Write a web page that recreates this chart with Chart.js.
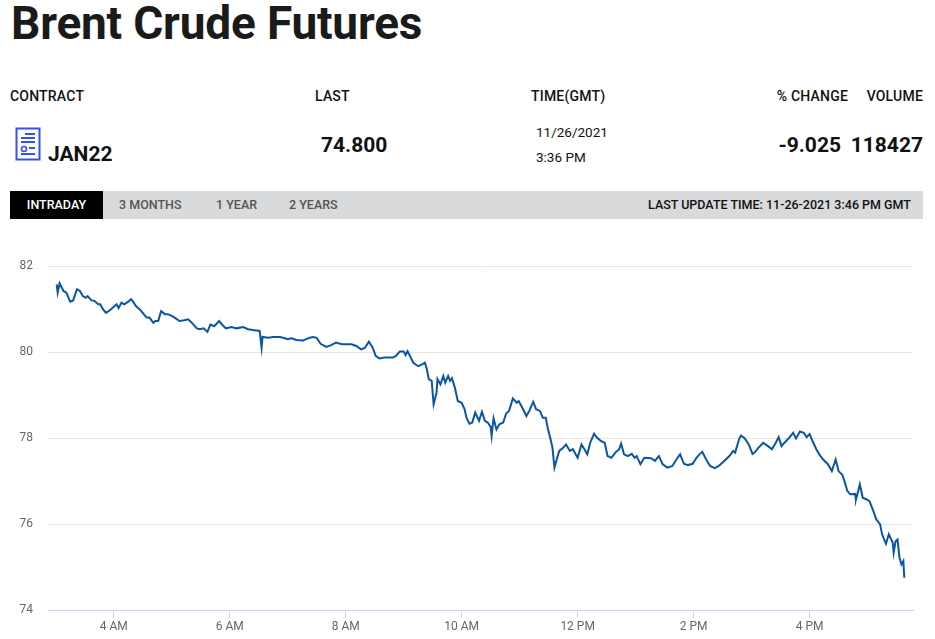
<!DOCTYPE html>
<html lang="en">
<head>
    <meta charset="UTF-8">
    <title>Brent Crude Futures</title>
    <script src="https://cdn.jsdelivr.net/npm/chart.js"></script>
    <style>
        body { margin: 0; width: 935px; height: 639px; background: #fff; font-family: Roboto, "Liberation Sans", sans-serif; color: #111; overflow: hidden; position: relative; }
        .abs { position: absolute; line-height: 1; white-space: nowrap; }
        h1 { position: absolute; left: 11px; top: 0; margin: 0; font-size: 46px; line-height: 1; font-weight: 700; letter-spacing: -0.2px; color: #1a1a1a; }
        .head { font-size: 14px; font-weight: 500; top: 89px; letter-spacing: 0.2px; }
        .big { font-size: 21px; font-weight: 700; }
        .small { font-size: 13.5px; font-weight: 400; }
        #tabs { position: absolute; left: 10px; top: 191px; width: 913px; height: 28px; background: #d9dadb; }
        .tab { position: absolute; top: 0; height: 28px; line-height: 28px; font-size: 12.5px; font-weight: 500; color: #555; }
        #chartBox { position: absolute; left: 0; top: 240px; width: 935px; height: 399px; }
    </style>
</head>
<body>
    <h1>Brent Crude Futures</h1>

    <div class="abs head" style="left:10px;">CONTRACT</div>
    <div class="abs head" style="left:315px;">LAST</div>
    <div class="abs head" style="left:531px;">TIME(GMT)</div>
    <div class="abs head" style="right:87px;">% CHANGE</div>
    <div class="abs head" style="right:12px;">VOLUME</div>

    <svg class="abs" style="left:15px; top:127px;" width="27" height="35" viewBox="0 0 27 35">
        <rect x="1.5" y="1.5" width="23" height="31" fill="none" stroke="#3352ee" stroke-width="2"/>
        <line x1="10" y1="7" x2="20" y2="7" stroke="#3352ee" stroke-width="2"/>
        <line x1="6" y1="11" x2="20" y2="11" stroke="#3352ee" stroke-width="2"/>
        <line x1="6" y1="15" x2="20" y2="15" stroke="#3352ee" stroke-width="2"/>
        <circle cx="9" cy="22" r="2.5" fill="none" stroke="#3352ee" stroke-width="1.6"/>
        <line x1="14" y1="21" x2="20" y2="21" stroke="#3352ee" stroke-width="2"/>
        <line x1="6" y1="27" x2="20" y2="27" stroke="#3352ee" stroke-width="2"/>
    </svg>
    <div class="abs big" style="left:48px; top:144px;">JAN22</div>
    <div class="abs big" style="left:321px; top:135px;">74.800</div>
    <div class="abs small" style="left:536px; top:126px;">11/26/2021</div>
    <div class="abs small" style="left:536px; top:151px;">3:36 PM</div>
    <div class="abs big" style="right:94px; top:135px;">-9.025</div>
    <div class="abs big" style="right:12px; top:135px;">118427</div>

    <div id="tabs">
        <div class="tab" style="left:0; width:93px; background:#000; color:#fff; text-align:center;">INTRADAY</div>
        <div class="tab" style="left:109px;">3 MONTHS</div>
        <div class="tab" style="left:206px;">1 YEAR</div>
        <div class="tab" style="left:279px;">2 YEARS</div>
        <div class="tab" style="right:12px; color:#111;">LAST UPDATE TIME: 11-26-2021 3:46 PM GMT</div>
    </div>

    <div id="chartBox">
        <canvas id="priceChart"></canvas>
    </div>

    <script>
        // minutes since midnight (local chart time)
        const times = [
            181, 182, 184, 188, 191, 195, 198, 202, 205, 208,
            211, 213, 217, 220, 224, 226, 229, 232, 236, 241,
            243, 245, 248, 251, 255, 258, 260, 263, 267, 270,
            274, 277, 281, 283, 286, 289, 293, 296, 300, 303,
            308, 313, 317, 320, 326, 329, 333, 337, 340, 344,
            349, 352, 356, 362, 367, 374, 379, 384, 391, 393,
            394, 400, 405, 412, 417, 420, 424, 429, 436, 439,
            443, 446, 450, 454, 460, 465, 470, 476, 486, 491,
            496, 500, 504, 508, 511, 515, 520, 529, 532, 536,
            540, 542, 544, 550, 555, 559, 562, 564, 566, 569,
            571, 574, 575, 578, 581, 583, 586, 588, 590, 593,
            596, 600, 603, 605, 608, 611, 614, 618, 621, 624,
            627, 630, 631, 633, 636, 639, 643, 646, 649, 653,
            657, 659, 663, 667, 670, 674, 677, 681, 684, 687,
            689, 692, 694, 696, 698, 701, 705, 708, 712, 715,
            720, 724, 727, 730, 733, 737, 740, 744, 748, 751,
            755, 759, 763, 765, 768, 772, 776, 779, 781, 785,
            789, 796, 800, 804, 808, 813, 818, 823, 826, 830,
            834, 839, 843, 846, 849, 853, 857, 862, 866, 872,
            877, 881, 883, 887, 889, 893, 897, 901, 903, 907,
            912, 917, 921, 925, 928, 931, 934, 939, 943, 946,
            950, 954, 957, 960, 963, 967, 970, 974, 979, 983,
            987, 990, 994, 996, 999, 1002, 1007, 1008, 1012, 1015,
            1019, 1022, 1026, 1029, 1033, 1035, 1039, 1042, 1046, 1047,
            1049, 1051, 1053, 1055, 1057, 1058
        ];

        const prices = [
            81.57, 81.38, 81.60, 81.42, 81.38, 81.17, 81.20, 81.46, 81.42, 81.30,
            81.26, 81.30, 81.20, 81.19, 81.11, 81.11, 80.99, 80.91, 80.97, 81.07,
            81.11, 81.02, 81.15, 81.11, 81.17, 81.23, 81.17, 81.07, 80.99, 80.91,
            80.80, 80.80, 80.68, 80.72, 80.72, 80.95, 80.88, 80.88, 80.84, 80.80,
            80.72, 80.74, 80.76, 80.70, 80.55, 80.53, 80.55, 80.47, 80.64, 80.60,
            80.72, 80.64, 80.55, 80.58, 80.55, 80.58, 80.53, 80.51, 80.49, 80.10,
            80.35, 80.33, 80.35, 80.35, 80.32, 80.30, 80.32, 80.28, 80.27, 80.30,
            80.33, 80.35, 80.33, 80.19, 80.12, 80.16, 80.22, 80.18, 80.18, 80.14,
            80.06, 80.10, 80.24, 80.10, 79.91, 79.85, 79.87, 79.87, 79.91, 80.01,
            80.01, 79.93, 80.02, 79.75, 79.67, 79.71, 79.75, 79.60, 79.37, 79.33,
            78.78, 79.05, 79.37, 79.25, 79.44, 79.29, 79.44, 79.33, 79.39, 79.17,
            78.86, 78.82, 78.67, 78.47, 78.33, 78.36, 78.59, 78.40, 78.61, 78.40,
            78.36, 78.26, 78.05, 78.46, 78.20, 78.32, 78.36, 78.57, 78.63, 78.92,
            78.82, 78.86, 78.69, 78.51, 78.63, 78.84, 78.67, 78.63, 78.47, 78.47,
            78.24, 77.97, 77.77, 77.31, 77.47, 77.70, 77.77, 77.85, 77.70, 77.74,
            77.54, 77.85, 77.74, 77.62, 77.89, 78.10, 78.01, 77.93, 77.89, 77.58,
            77.54, 77.66, 77.74, 77.87, 77.62, 77.58, 77.63, 77.54, 77.58, 77.39,
            77.54, 77.53, 77.47, 77.58, 77.39, 77.31, 77.35, 77.53, 77.62, 77.40,
            77.37, 77.40, 77.54, 77.62, 77.68, 77.50, 77.35, 77.30, 77.35, 77.47,
            77.58, 77.70, 77.66, 77.97, 78.06, 77.99, 77.85, 77.63, 77.66, 77.77,
            77.89, 77.81, 77.74, 77.89, 78.02, 77.81, 77.89, 78.01, 78.12, 77.99,
            78.15, 78.12, 78.02, 78.09, 77.93, 77.74, 77.62, 77.50, 77.39, 77.23,
            77.50, 77.23, 77.14, 77.00, 76.77, 76.69, 76.70, 76.57, 76.92, 76.61,
            76.57, 76.53, 76.30, 76.11, 75.99, 75.76, 75.54, 75.76, 75.57, 75.33,
            75.60, 75.64, 75.22, 75.06, 75.14, 74.75
        ];

        const timeTicks = [240, 360, 480, 600, 720, 840, 960];
        const priceTicks = [74, 76, 78, 80, 82];

        function hourLabel(min) {
            const h = Math.round(min / 60);
            const h12 = h % 12 === 0 ? 12 : h % 12;
            return h12 + (h < 12 ? ' AM' : ' PM');
        }

        const ctx = document.getElementById('priceChart').getContext('2d');
        new Chart(ctx, {
            type: 'line',
            data: {
                datasets: [{
                    data: times.map((t, i) => ({ x: t, y: prices[i] })),
                    borderColor: '#0b56a3',
                    borderWidth: 2,
                    pointRadius: 0,
                    tension: 0,
                    fill: false
                }]
            },
            options: {
                responsive: true,
                maintainAspectRatio: false,
                animation: false,
                layout: { padding: { top: 26, right: 22, left: 0, bottom: 0 } },
                plugins: { legend: { display: false }, tooltip: { enabled: false } },
                scales: {
                    x: {
                        type: 'linear',
                        min: 172,
                        max: 1067,
                        afterBuildTicks: scale => { scale.ticks = timeTicks.map(v => ({ value: v })); },
                        afterFit: scale => { scale.height = 29; },
                        border: { display: true, color: '#ccd6eb', width: 1 },
                        grid: { drawOnChartArea: false, drawTicks: true, tickLength: 8, color: '#ccd6eb' },
                        ticks: {
                            padding: 2,
                            color: '#666',
                            font: { family: 'Roboto', size: 12 },
                            maxRotation: 0,
                            callback: v => hourLabel(v)
                        }
                    },
                    y: {
                        min: 74,
                        max: 82,
                        afterBuildTicks: scale => { scale.ticks = priceTicks.map(v => ({ value: v })); },
                        afterFit: scale => { scale.width = 48; },
                        border: { display: false },
                        grid: { drawTicks: false, color: '#e6e6e6' },
                        ticks: {
                            padding: 15,
                            color: '#666',
                            font: { family: 'Roboto', size: 12 }
                        }
                    }
                }
            }
        });
    </script>
</body>
</html>
